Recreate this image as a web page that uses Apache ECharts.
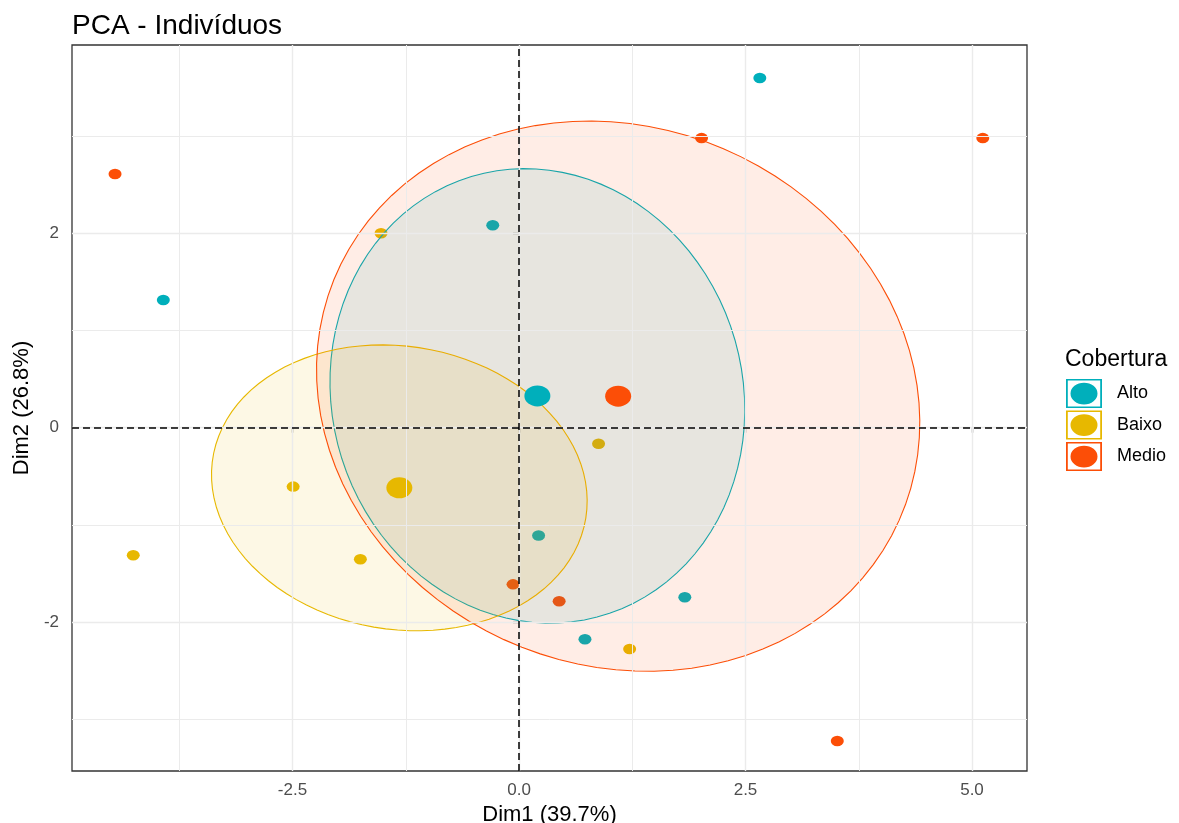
<!DOCTYPE html>
<html><head><meta charset="utf-8">
<script src="https://cdn.jsdelivr.net/npm/echarts@6/dist/echarts.min.js"></script>
<style>html,body{margin:0;padding:0;background:#fff}#chart{width:1179px;height:823px}</style>
</head><body><div id="chart"></div>
<script>
// ---- data ----
const groups = ['Alto', 'Baixo', 'Medio'];
const groupColors = ['#00AFBB', '#E7B800', '#FC4E07'];
const altoX = [2.658, -0.290, -3.926, 0.216, 1.830, 0.728];
const altoY = [3.597, 2.082, 1.314, -1.110, -1.745, -2.176];
const baixoX = [-1.523, -2.493, -4.258, -1.751, 0.878, 1.221];
const baixoY = [2.000, -0.606, -1.312, -1.354, -0.166, -2.276];
const medioX = [-4.459, 2.015, 5.119, -0.066, 0.443, 3.513];
const medioY = [2.610, 2.979, 2.979, -1.612, -1.786, -3.224];
const xTicks = [-2.5, 0, 2.5, 5];
const xTickLabels = ['-2.5', '0.0', '2.5', '5.0'];
const yTicks = [-2, 0, 2];
const yTickLabels = ['-2', '0', '2'];
const xMinorGrid = [-3.75, -1.25, 1.25, 3.75];
const yMinorGrid = [-3, -1, 1, 3];
const zeroLines = [0];
const chartTitle = 'PCA - Indivíduos';
const xTitle = 'Dim1 (39.7%)';
const yTitle = 'Dim2 (26.8%)';
const legendTitle = 'Cobertura';
const ellipseLevel = 0.95;

// ---- helpers ----
const FONT = '"Liberation Sans", Arial, sans-serif';
const groupX = [altoX, baixoX, medioX];
const groupY = [altoY, baixoY, medioY];
function mean(a) { return a.reduce((s, v) => s + v, 0) / a.length; }
function cov(a, b) {
  const ma = mean(a), mb = mean(b);
  let s = 0; for (let i = 0; i < a.length; i++) s += (a[i] - ma) * (b[i] - mb);
  return s / (a.length - 1);
}
// confidence ellipse around the barycentre (FactoMineR coord.ellipse, bary = TRUE)
function confEllipse(xs, ys, level, np) {
  const n = xs.length, mx = mean(xs), my = mean(ys);
  const sx = Math.sqrt(cov(xs, xs) / n), sy = Math.sqrt(cov(ys, ys) / n);
  const r = (cov(xs, ys) / n) / (sx * sy), d = Math.acos(r);
  const t = Math.sqrt(-2 * Math.log(1 - level));
  const pts = [];
  for (let i = 0; i < np; i++) {
    const a = 2 * Math.PI * i / (np - 1);
    pts.push([t * sx * Math.cos(a + d / 2) + mx, t * sy * Math.cos(a - d / 2) + my]);
  }
  return pts;
}
function hexA(hex, a) {
  const v = parseInt(hex.slice(1), 16);
  return 'rgba(' + (v >> 16 & 255) + ',' + (v >> 8 & 255) + ',' + (v & 255) + ',' + a + ')';
}
function lab(ticks, labels) {
  return v => { const i = ticks.findIndex(t => Math.abs(t - v) < 1e-9); return i < 0 ? '' : labels[i]; };
}

const gridLineData = []
  .concat(xTicks.map(v => ({ xAxis: v, lineStyle: { color: '#EBEBEB', width: 1.4, type: 'solid' } })))
  .concat(yTicks.map(v => ({ yAxis: v, lineStyle: { color: '#EBEBEB', width: 1.4, type: 'solid' } })))
  .concat(xMinorGrid.map(v => ({ xAxis: v, lineStyle: { color: '#EBEBEB', width: 1, type: 'solid' } })))
  .concat(yMinorGrid.map(v => ({ yAxis: v, lineStyle: { color: '#EBEBEB', width: 1, type: 'solid' } })));
const zeroLineData = []
  .concat(zeroLines.map(v => ({ xAxis: v })))
  .concat(zeroLines.map(v => ({ yAxis: v })));

const series = [{
  name: '_grid', type: 'scatter', data: [], silent: true, z: 0,
  markLine: { silent: true, symbol: ['none', 'none'], label: { show: false }, animation: false, data: gridLineData }
}];
groups.forEach((g, i) => {
  series.push({
    name: g, type: 'scatter', z: 2, symbol: 'circle', symbolSize: [13, 10.5],
    itemStyle: { color: groupColors[i], opacity: 1 },
    data: groupX[i].map((x, k) => [x, groupY[i][k]])
  });
});
groups.forEach((g, i) => {
  const ell = confEllipse(groupX[i], groupY[i], ellipseLevel, 100);
  series.push({
    name: g, type: 'custom', z: 3, silent: true,
    data: [[mean(groupX[i]), mean(groupY[i])]],
    renderItem: (params, api) => ({
      type: 'polygon',
      shape: { points: ell.map(p => api.coord(p)) },
      style: { fill: hexA(groupColors[i], 0.1), stroke: groupColors[i], lineWidth: 1.1 }
    })
  });
});
groups.forEach((g, i) => {
  series.push({
    name: g, type: 'scatter', z: 4, symbol: 'circle', symbolSize: [26, 21],
    itemStyle: { color: groupColors[i], opacity: 1 },
    data: [[mean(groupX[i]), mean(groupY[i])]]
  });
});
series.push({
  name: '_zero', type: 'scatter', data: [], silent: true, z: 5,
  markLine: { silent: true, symbol: ['none', 'none'], label: { show: false }, animation: false,
    lineStyle: { color: '#000', width: 1.5, type: [7, 4] }, data: zeroLineData }
});

const keyIcon = 'path://M0,0H100V100H0Z M5,5V95H95V5Z M12.5,50A37.5,37.5,0,1,0,87.5,50A37.5,37.5,0,1,0,12.5,50Z';

const option = {
  animation: false,
  backgroundColor: '#fff',
  textStyle: { fontFamily: FONT },
  title: [
    { text: chartTitle, left: 72, top: 12, padding: 0,
      textStyle: { fontSize: 28, fontWeight: 'normal', color: '#000', fontFamily: FONT } },
    { text: legendTitle, left: 1065, top: 348, padding: 0,
      textStyle: { fontSize: 23, fontWeight: 'normal', color: '#000', fontFamily: FONT } }
  ],
  legend: {
    orient: 'vertical', left: 1066, top: 379, padding: 0,
    itemWidth: 36, itemHeight: 29, itemGap: 2.5, symbolKeepAspect: false, selectedMode: false,
    textStyle: { fontSize: 18, color: '#000', fontFamily: FONT, padding: [0, 0, 0, 10] },
    data: groups.map((g, i) => ({ name: g, icon: keyIcon, itemStyle: { color: groupColors[i], borderWidth: 0, opacity: 1 } }))
  },
  grid: { left: 72, right: 152, top: 45, bottom: 52, containLabel: false, outerBoundsMode: 'none',
    show: true, borderColor: '#333333', borderWidth: 1.3, backgroundColor: 'transparent' },
  xAxis: {
    type: 'value', min: -4.934, max: 5.607,
    axisLine: { show: false },
    axisTick: { show: true, customValues: xTicks, length: 5, lineStyle: { color: '#333', width: 1.3 } },
    axisLabel: { customValues: xTicks, formatter: lab(xTicks, xTickLabels), margin: 11, fontSize: 17, color: '#4D4D4D', fontFamily: FONT },
    splitLine: { show: false },
    name: xTitle, nameLocation: 'middle', nameGap: 24,
    nameTextStyle: { fontSize: 22, color: '#000', fontFamily: FONT }
  },
  yAxis: {
    type: 'value', min: -3.532, max: 3.937,
    axisLine: { show: false },
    axisTick: { show: true, customValues: yTicks, length: 6, lineStyle: { color: '#333', width: 1.3 } },
    axisLabel: { customValues: yTicks, formatter: lab(yTicks, yTickLabels), margin: 13, fontSize: 17, color: '#4D4D4D', fontFamily: FONT },
    splitLine: { show: false },
    name: yTitle, nameLocation: 'middle', nameGap: 36,
    nameTextStyle: { fontSize: 22, color: '#000', fontFamily: FONT }
  },
  series: series
};
const chart = echarts.init(document.getElementById('chart'), null, { renderer: 'canvas' });
chart.setOption(option);
</script>
</body></html>
